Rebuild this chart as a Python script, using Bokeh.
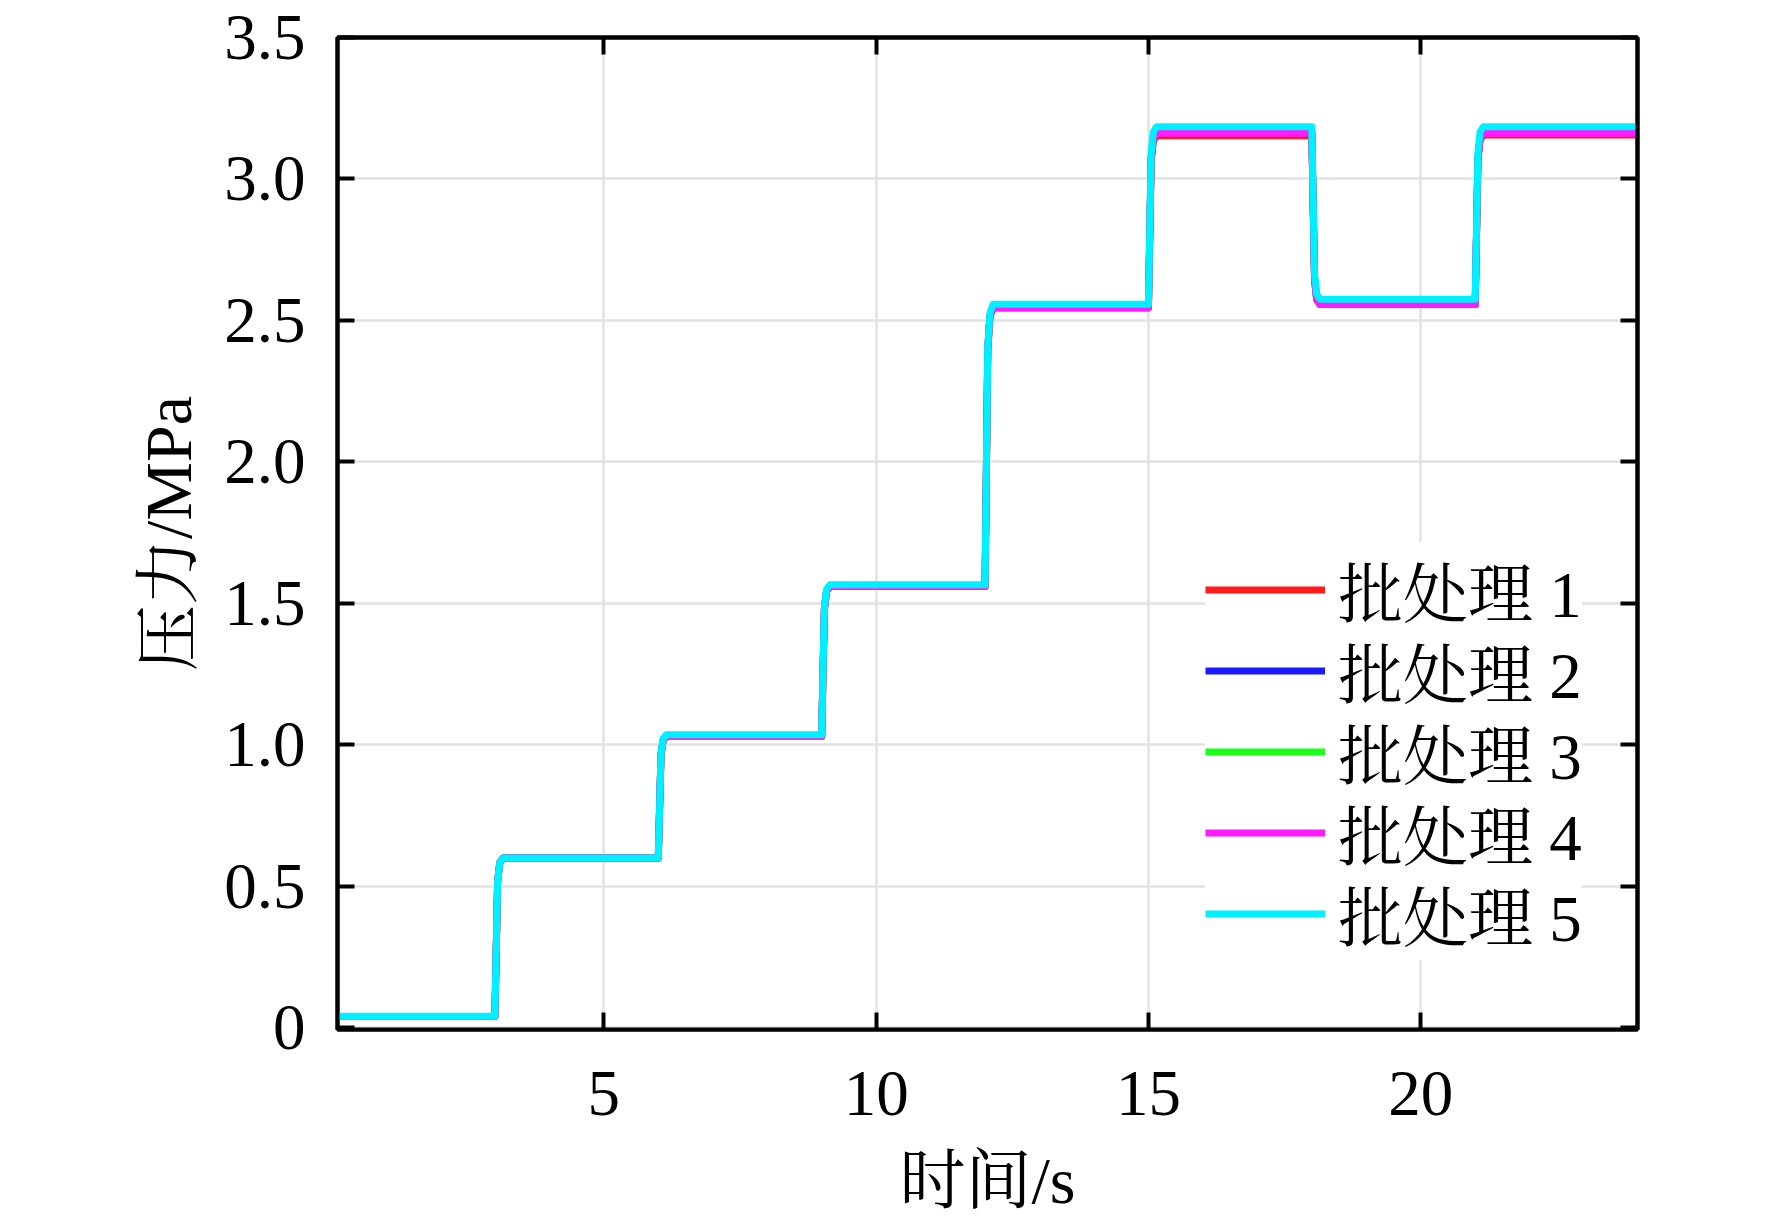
from bokeh.plotting import figure
from bokeh.models import (LinearAxis, Range1d, FixedTicker, CustomJSTickFormatter,
                          Legend, LegendItem)
from bokeh.embed import file_html
from bokeh.resources import INLINE

# ---- data ----
step_times = [3, 6, 9, 12, 15, 18, 21]
t_start, t_end = 0.11, 24.0

series_names = ["批处理 1", "批处理 2", "批处理 3", "批处理 4", "批处理 5"]
series_colors = ["#ff1a1a", "#1a1aff", "#1aff1a", "#ff1aff", "#00f0ff"]

levels_1 = [0.040, 0.600, 1.030, 1.560, 2.545, 3.153, 2.556, 3.155]
levels_2 = [0.040, 0.600, 1.030, 1.560, 2.545, 3.165, 2.556, 3.165]
levels_3 = [0.040, 0.600, 1.030, 1.560, 2.545, 3.170, 2.558, 3.170]
levels_4 = [0.040, 0.600, 1.030, 1.560, 2.545, 3.162, 2.556, 3.162]
levels_5 = [0.041, 0.600, 1.036, 1.566, 2.557, 3.185, 2.575, 3.185]
all_levels = [levels_1, levels_2, levels_3, levels_4, levels_5]

x_ticks = [5, 10, 15, 20]
y_ticks = [0, 0.5, 1.0, 1.5, 2.0, 2.5, 3.0, 3.5]

FONT = "'Liberation Serif', 'Noto Serif CJK SC', 'Noto Sans CJK SC', serif"
NUM_FONT = "'Liberation Serif'"


def step_path(levels):
    xs, ys = [t_start], [levels[0]]
    for i, ts in enumerate(step_times):
        a, b = levels[i], levels[i + 1]
        xs += [ts, ts + 0.05, ts + 0.09, ts + 0.15]
        ys += [a, a + 0.85 * (b - a), a + 0.97 * (b - a), b]
    xs.append(t_end)
    ys.append(levels[-1])
    return xs, ys


p = figure(width=1772, height=1221,
           x_range=Range1d(0.11, 23.98), y_range=Range1d(-0.006, 3.5),
           output_backend="svg", toolbar_location=None,
           min_border_left=337, min_border_right=135,
           min_border_top=37, min_border_bottom=192)

p.background_fill_color = "white"
p.border_fill_color = "white"
p.outline_line_color = "black"
p.outline_line_width = 4

# grids
p.xgrid.ticker = FixedTicker(ticks=x_ticks)
p.ygrid.ticker = FixedTicker(ticks=y_ticks)
for g in (p.xgrid, p.ygrid):
    g.grid_line_color = "#e2e2e2"
    g.grid_line_width = 2.5

# main axes
xa = p.xaxis[0]
ya = p.yaxis[0]
xa.ticker = FixedTicker(ticks=x_ticks)
ya.ticker = FixedTicker(ticks=y_ticks)
ya.formatter = CustomJSTickFormatter(code="return tick == 0 ? '0' : tick.toFixed(1);")
xa.axis_label = "时间/s"
ya.axis_label = "压力/MPa"
for ax in (xa, ya):
    ax.axis_line_width = 4
    ax.axis_line_color = "black"
    ax.major_tick_in = 17
    ax.major_tick_out = 0
    ax.major_tick_line_width = 4
    ax.major_tick_line_color = "black"
    ax.minor_tick_line_color = None
    ax.major_label_text_font = NUM_FONT
    ax.major_label_text_font_size = "65px"
    ax.major_label_text_color = "black"
    ax.axis_label_text_font = FONT
    ax.axis_label_text_font_size = "66px"
    ax.axis_label_text_font_style = "normal"
    ax.axis_label_text_color = "black"
xa.major_label_standoff = 42
ya.major_label_standoff = 32
xa.axis_label_standoff = 26
ya.axis_label_standoff = 16

# mirrored axes (ticks only, labels not drawn)
top = LinearAxis(ticker=FixedTicker(ticks=x_ticks))
right = LinearAxis(ticker=FixedTicker(ticks=y_ticks))
for ax in (top, right):
    ax.axis_line_width = 4
    ax.axis_line_color = "black"
    ax.major_tick_in = 17
    ax.major_tick_out = 0
    ax.major_tick_line_width = 4
    ax.major_tick_line_color = "black"
    ax.minor_tick_line_color = None
    ax.major_label_text_font_size = "10px"
    ax.major_label_text_color = None
    ax.major_label_standoff = 0
p.add_layout(top, "above")
p.add_layout(right, "right")

# data lines
renderers = []
for color, lv in zip(series_colors, all_levels):
    xs, ys = step_path(lv)
    r = p.line(xs, ys, line_color=color, line_width=7, line_join="round")
    renderers.append(r)

# legend: one entry per box so that the rows sit closer than the CJK font metrics allow
row_pitch = 81
bottom_row_offset = 69
n = len(series_names)
for i, (name, r) in enumerate(zip(series_names, renderers)):
    lg = Legend(items=[LegendItem(label=name, renderers=[r])],
                location=(868, bottom_row_offset + (n - 1 - i) * row_pitch))
    lg.padding = 4
    lg.spacing = 0
    lg.margin = 0
    lg.label_height = 81
    lg.glyph_height = 81
    lg.glyph_width = 120
    lg.label_standoff = 13
    lg.border_line_color = None
    lg.background_fill_color = "white"
    lg.background_fill_alpha = 1.0
    lg.label_text_font = FONT
    lg.label_text_font_size = "65px"
    lg.label_text_color = "black"
    p.add_layout(lg, "center")

open("out.html", "w").write(file_html(p, INLINE))
